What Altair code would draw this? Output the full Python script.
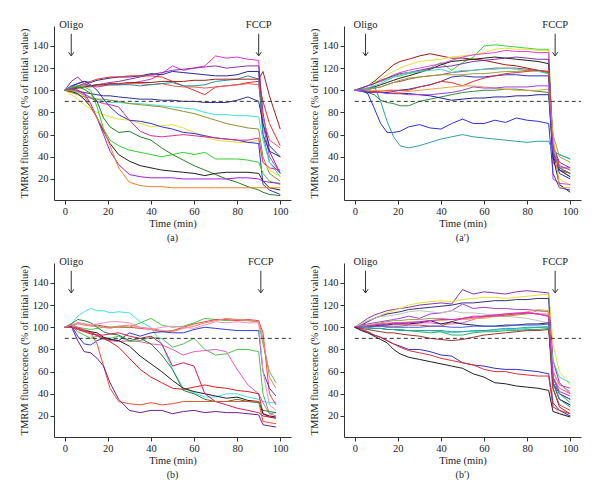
import altair as alt
import pandas as pd

SERIF = "Liberation Serif"
X_TICKS = [0, 20, 40, 60, 80, 100]
Y_TICKS = [20, 40, 60, 80, 100, 120, 140]
X_DOMAIN = [-5, 105]
Y_DOMAIN = [1, 158]
THRESHOLD = 90
Y_TITLE = "TMRM fluorescence (% of initial value)"
X_TITLE = "Time (min)"

# sampling times (min)
T_A = [0, 3, 6, 9, 12, 15, 18, 21, 25, 30, 35, 40, 45, 50, 55, 60, 65, 70, 75, 80, 85, 90, 92, 95, 100]
T_B = [0, 3, 6, 9, 12, 15, 18, 21, 25, 30, 35, 40, 45, 50, 55, 60, 65, 70, 75, 80, 85, 90, 92, 95, 98]

# ---------------- panel (a) ----------------
a_magenta = [100,102,104,105,104,103,104,105,105,106,108,110,115,122,118,120,122,131,129,130,128,127,70,40,25]
a_purple = [100,108,112,106,104,105,106,107,108,110,112,114,116,118,119,120,121,122,120,121,122,122,80,45,25]
a_navy = [100,103,106,108,107,109,110,111,112,112,113,115,114,117,116,115,114,113,113,114,117,117,60,45,40]
a_red = [100,102,104,106,108,110,111,112,112,113,113,113,112,108,104,100,96,103,104,105,107,108,90,70,50]
a_red2 = [100,101,102,103,103,104,104,105,105,106,106,105,106,104,103,103,102,103,104,105,106,105,75,55,48]
a_teal = [100,101,103,104,104,105,105,105,105,105,104,105,106,107,104,104,105,108,109,110,113,110,60,35,25]
a_brown = [100,101,102,103,104,105,105,106,106,107,107,107,108,108,108,109,109,110,110,110,110,110,117,95,65]
a_navy2 = [100,100,99,98,97,96,95,95,94,93,92,92,91,91,90,90,89,89,89,91,94,90,70,50,40]
a_cyan = [100,100,98,96,94,92,90,89,89,88,88,87,86,85,84,83,80,78,78,77,77,76,55,35,22]
a_olive = [100,98,96,94,93,92,92,91,90,88,87,86,85,83,81,79,76,73,70,68,66,65,40,25,18]
a_yellow = [100,96,92,87,83,80,78,76,74,73,70,67,68,69,66,62,58,55,54,53,53,55,35,28,22]
a_blue = [100,104,106,108,105,100,92,85,78,73,72,70,67,65,62,61,59,57,56,55,53,52,15,10,6]
a_pink = [100,101,100,97,93,90,88,87,85,73,63,59,58,59,60,59,58,57,56,55,55,57,35,30,28]
a_green = [100,103,104,103,100,85,65,55,50,46,44,42,40,42,44,42,44,38,38,38,37,35,25,18,15]
a_dkgreen = [100,101,103,101,97,90,75,67,62,63,58,55,48,42,37,32,28,24,20,17,13,10,8,6,5]
a_black = [100,99,97,92,85,75,63,52,42,36,32,30,28,27,26,25,23,25,26,26,26,25,18,12,10]
a_violet = [100,101,100,97,88,75,60,45,33,24,22,21,21,21,20,20,20,20,20,21,21,20,18,17,16]
a_orange = [100,100,99,95,85,75,65,50,30,17,14,13,13,12,12,12,12,12,12,12,12,12,12,12,12]

SERIES_A = [
    ("#e030e0", a_magenta), ("#9030a0", a_purple), ("#28289c", a_navy),
    ("#e03030", a_red), ("#e85858", a_red2), ("#309090", a_teal),
    ("#a02020", a_brown), ("#303090", a_navy2), ("#40e0e0", a_cyan),
    ("#909030", a_olive), ("#e8e030", a_yellow), ("#3030e0", a_blue),
    ("#e03088", a_pink), ("#30d030", a_green), ("#208020", a_dkgreen),
    ("#202020", a_black), ("#a020e0", a_violet), ("#f08020", a_orange),
]

# ---------------- panel (a') ----------------
ap_dkred = [100,102,104,108,113,118,123,126,128,131,133,131,129,129,128,127,125,123,122,120,118,116,35,28,25]
ap_green = [100,101,97,108,108,110,112,113,115,117,120,125,118,125,130,140,141,140,139,138,137,137,45,42,38]
ap_yellow = [100,102,104,107,110,114,117,120,123,126,127,128,130,131,132,134,137,138,137,137,136,136,40,20,14]
ap_magenta = [100,102,104,106,108,111,114,116,118,120,122,124,127,130,132,133,134,136,135,135,134,134,20,16,15]
ap_black = [100,101,102,103,105,107,109,111,113,116,119,123,126,127,128,129,130,129,128,127,126,124,40,15,8]
ap_purple = [100,102,104,106,109,111,113,115,116,118,120,121,122,124,126,127,128,129,130,129,128,128,50,35,30]
ap_brown = [100,100,101,102,103,105,107,108,110,112,113,114,116,117,118,119,120,120,120,119,118,115,45,28,22]
ap_cyan = [100,101,102,104,106,109,112,114,116,117,118,119,116,118,118,119,119,120,119,118,117,115,50,30,25]
ap_olive = [100,100,101,102,103,105,107,109,111,112,113,114,114,114,115,115,116,117,117,118,118,117,60,40,35]
ap_blue = [100,100,97,84,70,62,62,63,67,69,66,65,70,74,70,70,73,71,75,73,72,70,25,12,10]
ap_teal = [100,100,100,104,90,72,58,50,48,50,53,56,58,60,58,57,56,55,54,53,54,54,45,42,38]
ap_dkgreen = [100,100,98,96,91,89,88,86,86,90,92,94,96,98,99,100,100,101,101,100,99,98,40,30,25]
ap_navy = [100,100,99,99,98,98,97,97,97,96,95,93,91,92,93,93,94,94,95,95,96,96,40,28,22]
ap_blue2 = [100,99,98,98,98,98,99,100,101,103,105,108,112,113,112,112,113,114,114,113,113,113,45,25,20]
ap_red = [100,100,99,99,99,100,100,100,100,103,105,108,107,104,108,111,113,115,116,117,118,117,50,32,28]
ap_orange = [100,100,100,100,100,99,98,98,99,100,101,102,103,104,104,103,102,101,100,100,100,101,60,12,12]
ap_violet = [100,100,99,98,98,97,97,97,96,96,96,97,98,100,103,102,102,103,103,103,104,104,45,30,30]

SERIES_AP = [
    ("#a01818", ap_dkred), ("#40d040", ap_green), ("#e8e030", ap_yellow),
    ("#e040e0", ap_magenta), ("#202020", ap_black), ("#8030a0", ap_purple),
    ("#b04848", ap_brown), ("#40d0d0", ap_cyan), ("#a0a040", ap_olive),
    ("#3030e0", ap_blue), ("#30a0a0", ap_teal), ("#309030", ap_dkgreen),
    ("#202090", ap_navy), ("#3030c0", ap_blue2), ("#e03030", ap_red),
    ("#f0a040", ap_orange), ("#a040e0", ap_violet),
]

# ---------------- panel (b) ----------------
b_cyan = [100,103,110,114,117,115,115,113,114,113,105,100,85,62,45,41,37,37,40,40,37,35,33,32,32]
b_green = [100,103,100,99,98,99,100,100,101,100,104,108,102,100,101,104,108,107,106,107,106,105,85,60,50]
b_red = [100,102,104,103,102,102,101,100,100,100,99,98,96,97,100,103,105,107,107,106,107,106,95,40,30]
b_salmon = [100,101,103,102,101,101,100,99,101,102,100,99,97,96,99,101,104,106,108,107,106,105,90,55,45]
b_blue = [100,102,92,85,84,88,90,89,88,95,92,95,96,95,95,98,100,99,98,97,97,97,60,45,38]
b_green2 = [100,102,96,93,90,92,91,90,92,87,88,91,90,82,85,90,80,75,76,80,80,78,40,22,23]
b_pink = [100,101,100,98,96,92,89,88,87,88,87,85,84,80,75,78,79,80,78,62,48,40,32,22,20]
b_red2 = [100,100,99,97,95,93,90,87,82,72,62,55,50,45,44,46,48,46,45,43,42,40,22,19,18]
b_black = [100,100,99,97,96,95,91,89,88,83,74,67,60,52,45,42,40,38,36,37,34,33,22,20,19]
b_dkgreen = [100,103,107,106,104,100,96,94,93,88,90,85,75,62,43,40,35,33,33,35,33,32,25,24,23]
b_crimson = [100,100,98,96,94,93,93,94,95,92,90,92,85,65,68,65,40,33,30,27,25,23,20,19,18]
b_orange = [100,100,99,97,95,85,65,45,33,31,30,32,30,31,33,33,33,33,33,33,33,33,15,14,13]
b_purple = [100,101,88,78,77,72,65,50,35,25,23,25,25,22,24,25,23,24,23,23,22,21,12,11,10]
b_pink2 = [100,102,104,103,102,103,104,105,105,104,100,98,100,101,100,99,102,105,104,105,104,104,60,30,25]

SERIES_B = [
    ("#40e0f0", b_cyan), ("#40d040", b_green), ("#f04040", b_red),
    ("#f08070", b_salmon), ("#3040d0", b_blue), ("#50c050", b_green2),
    ("#e060c0", b_pink), ("#e02020", b_red2), ("#202020", b_black),
    ("#308030", b_dkgreen), ("#d02060", b_crimson), ("#f05030", b_orange),
    ("#702090", b_purple), ("#f090c0", b_pink2),
]

# ---------------- panel (b') ----------------
bp_purple = [100,104,108,111,113,115,116,117,118,120,121,122,121,134,130,132,131,130,132,133,132,131,70,50,40]
bp_yellow = [100,103,106,108,111,113,115,117,120,122,123,124,123,125,126,127,127,126,127,128,129,130,85,60,48]
bp_navy = [100,102,105,108,110,112,113,114,116,117,118,119,120,122,122,123,124,124,125,125,126,126,50,40,35]
bp_violet = [100,102,103,104,105,106,107,108,110,108,112,113,115,121,117,118,117,117,116,116,115,114,60,48,45]
bp_gray = [100,103,106,108,110,110,111,112,114,115,114,113,115,113,113,112,111,110,109,108,106,104,30,22,20]
bp_olive = [100,101,102,103,104,105,106,106,107,107,108,108,107,107,108,109,110,110,111,112,115,114,50,35,30]
bp_pink = [100,101,101,102,102,103,103,103,104,104,104,103,103,104,107,110,111,112,112,113,112,112,55,45,40]
bp_orange = [100,101,102,103,103,104,104,104,105,105,106,106,107,107,108,108,110,111,112,114,116,115,60,48,42]
bp_red = [100,100,100,101,101,101,101,101,102,102,101,101,105,108,109,110,110,111,112,113,112,110,45,30,25]
bp_dknavy = [100,100,101,101,102,102,103,103,103,104,106,103,105,103,102,101,101,102,102,103,103,104,50,35,30]
bp_blue = [100,100,101,101,101,100,100,100,100,100,101,101,100,100,101,101,101,101,102,102,102,103,55,40,35]
bp_cyan = [100,101,100,99,99,98,98,97,97,97,97,96,95,96,96,97,97,98,98,99,100,101,70,55,50]
bp_green = [100,101,100,99,99,98,98,97,97,96,95,96,93,93,95,96,96,97,97,98,98,99,55,40,32]
bp_teal = [100,100,99,99,99,98,98,98,97,97,97,97,96,96,97,97,98,99,99,100,100,100,50,35,28]
bp_brown = [100,99,98,97,96,95,95,94,93,92,90,89,88,89,91,93,94,95,96,97,97,98,45,28,22]
bp_magenta = [100,101,101,102,103,103,104,104,104,105,106,107,107,108,110,110,111,112,113,113,112,110,55,42,38]
bp_bluelow = [100,98,96,93,91,88,85,83,80,80,78,75,74,68,66,65,63,62,62,61,60,58,32,25,20]
bp_redlow = [100,98,96,93,91,88,85,82,79,77,75,72,70,68,66,62,60,60,58,57,56,56,28,25,22]
bp_blacklow = [100,97,95,92,89,86,80,76,73,71,69,67,65,63,58,55,50,49,47,46,45,43,24,22,19]

SERIES_BP = [
    ("#9030b0", bp_purple), ("#e8e030", bp_yellow), ("#303080", bp_navy),
    ("#a040e0", bp_violet), ("#c0c0c0", bp_gray), ("#a0a050", bp_olive),
    ("#e060b0", bp_pink), ("#f0a060", bp_orange), ("#e04040", bp_red),
    ("#202060", bp_dknavy), ("#4060e0", bp_blue), ("#50d0d0", bp_cyan),
    ("#30b060", bp_green), ("#20a0a0", bp_teal), ("#a03030", bp_brown),
    ("#e020e0", bp_magenta), ("#3030d0", bp_bluelow), ("#e03030", bp_redlow),
    ("#202020", bp_blacklow),
]


def xenc(field):
    return alt.X(f"{field}:Q", scale=alt.Scale(domain=X_DOMAIN, nice=False, zero=False),
                 axis=alt.Axis(values=X_TICKS, title=X_TITLE, format="d"))


def yenc(field):
    return alt.Y(f"{field}:Q", scale=alt.Scale(domain=Y_DOMAIN, nice=False, zero=False),
                 axis=alt.Axis(values=Y_TICKS, title=Y_TITLE, format="d"))


def panel(times, series, oligo_t, fccp_t, caption):
    rows = []
    for i, (color, vals) in enumerate(series):
        assert len(vals) == len(times), i
        for t, v in zip(times, vals):
            rows.append({"t": t, "v": v, "s": i, "c": color})
    df = pd.DataFrame(rows)
    lines = alt.Chart(df).mark_line(strokeWidth=1, clip=True).encode(
        x=xenc("t"), y=yenc("v"),
        detail="s:N",
        color=alt.Color("c:N", scale=None),
    )
    dash_df = pd.DataFrame({"t": [0], "t2": [X_DOMAIN[1]], "v": [THRESHOLD]})
    dashed = alt.Chart(dash_df).mark_rule(strokeDash=[4, 3], color="#333", strokeWidth=1).encode(
        x=xenc("t"), x2="t2:Q", y=yenc("v"))
    ann = pd.DataFrame({"t": [oligo_t, fccp_t], "label": ["Oligo", "FCCP"],
                        "ytext": [159, 159], "ytop": [151, 151], "ybot": [131, 131]})
    shaft = alt.Chart(ann).mark_rule(color="#333", strokeWidth=1).encode(
        x=xenc("t"), y=yenc("ytop"), y2="ybot:Q")
    head = alt.Chart(ann).mark_point(shape="M-1,-1.4L0,0L1,-1.4", filled=False, size=28,
                                     color="#333", strokeWidth=1, opacity=1).encode(
        x=xenc("t"), y=yenc("ybot"))
    text = alt.Chart(ann).mark_text(font=SERIF, fontSize=10.5, color="#222", baseline="middle").encode(
        x=xenc("t"), y=yenc("ytext"), text="label:N")
    return alt.layer(lines, dashed, shaft, head, text).properties(
        width=237, height=174,
        title=alt.TitleParams(caption, orient="bottom", anchor="middle", font=SERIF,
                              fontSize=10, fontWeight="normal", color="#222", offset=4),
    )


pa = panel(T_A, SERIES_A, 3, 90, "(a)")
pap = panel(T_A, SERIES_AP, 5, 93, "(a\u2032)")
pb = panel(T_B, SERIES_B, 3, 91, "(b)")
pbp = panel(T_A, SERIES_BP, 5, 93, "(b\u2032)")

chart = alt.vconcat(
    alt.hconcat(pa, pap, spacing=17),
    alt.hconcat(pb, pbp, spacing=17),
    spacing=13,
).properties(
    padding={"left": 11, "top": 11, "right": 5, "bottom": 5}
).configure_axis(
    labelFont=SERIF, titleFont=SERIF, labelFontSize=10.5, titleFontSize=10.5,
    titleFontWeight="normal", labelColor="#222", titleColor="#222",
    domainColor="#333", tickColor="#333", tickSize=4, grid=False, labelPadding=2,
).configure_axisX(titlePadding=2).configure_axisY(titlePadding=3).configure_view(stroke=None)

chart.save("out.html", embed_options={"renderer": "svg", "actions": False})
